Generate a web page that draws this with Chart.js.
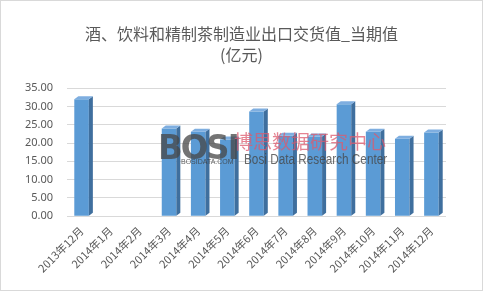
<!DOCTYPE html>
<html>
<head>
<meta charset="utf-8">
<script src="https://cdn.jsdelivr.net/npm/chart.js"></script>
<style>
    html, body { margin: 0; padding: 0; background: #fff; }
    .wrap {
        position: relative;
        width: 481px;
        height: 289px;
        border: 1px solid #d9d9d9;
        font-family: "Noto Sans CJK SC", "Noto Sans", sans-serif;
    }
    canvas { display: block; }
    .wm { position: absolute; white-space: nowrap; pointer-events: none; transform-origin: left top; }
    .wm-logo { left: 157px; top: 126px; font: bold 34px "DejaVu Sans", sans-serif; color: rgba(70,70,70,0.75); letter-spacing: -2px; transform: scaleX(0.95); }
    .wm-site { left: 180px; top: 157px; font: 7px "Liberation Sans", sans-serif; color: rgba(60,60,60,0.8); }
    .wm-cn { left: 233px; top: 126px; font: 19px "Noto Sans CJK SC", sans-serif; color: rgba(220,90,110,0.75); }
    .wm-en { left: 243px; top: 150px; font: 14px "Liberation Sans", sans-serif; color: rgba(70,70,70,0.8); transform: scaleX(0.84); }
</style>
</head>
<body>
<div class="wrap">
    <canvas id="chart" width="481" height="289"></canvas>
    <div class="wm wm-logo">BOSI</div>
    <div class="wm wm-site">BOSIDATA.COM</div>
    <div class="wm wm-cn">博思数据研究中心</div>
    <div class="wm wm-en">Bosi Data Research Center</div>
</div>
<script>
// 데이터
const months = ['2013年12月', '2014年1月', '2014年2月', '2014年3月', '2014年4月', '2014年5月',
    '2014年6月', '2014年7月', '2014年8月', '2014年9月', '2014年10月', '2014年11月', '2014年12月'];
const exportValues = [32.0, null, null, 24.0, 23.1, 21.0, 28.6, 22.0, 21.8, 30.6, 23.1, 21.2, 22.9];
const titleLines = ['酒、饮料和精制茶制造业出口交货值_当期值', '(亿元)'];

// 3D 느낌의 측면/윗면 그리기
const bar3d = {
    id: 'bar3d',
    afterDatasetsDraw(chart) {
        const ctx = chart.ctx;
        const d = 4, r = 3;
        chart.getDatasetMeta(0).data.forEach((bar, i) => {
            if (exportValues[i] == null) return;
            const { x, y, base, width } = bar.getProps(['x', 'y', 'base', 'width'], true);
            const L = x - width / 2, R = x + width / 2;
            ctx.save();
            ctx.fillStyle = '#3f6f9e';
            ctx.beginPath();
            ctx.moveTo(R, y);
            ctx.lineTo(R + d, y - r);
            ctx.lineTo(R + d, base - r);
            ctx.lineTo(R, base);
            ctx.closePath();
            ctx.fill();
            ctx.fillStyle = '#7eaee0';
            ctx.beginPath();
            ctx.moveTo(L, y);
            ctx.lineTo(L + d, y - r);
            ctx.lineTo(R + d, y - r);
            ctx.lineTo(R, y);
            ctx.closePath();
            ctx.fill();
            ctx.restore();
        });
    }
};

new Chart(document.getElementById('chart'), {
    type: 'bar',
    data: {
        labels: months,
        datasets: [{
            data: exportValues,
            backgroundColor: '#5b9bd5',
            borderWidth: 0,
            barPercentage: 0.5,
            categoryPercentage: 1.0
        }]
    },
    options: {
        responsive: false,
        animation: false,
        layout: { padding: { left: 22, right: 22, top: 0, bottom: 15 } },
        plugins: {
            legend: { display: false },
            tooltip: { enabled: false },
            title: {
                display: true,
                text: titleLines,
                color: '#595959',
                font: { family: '"Noto Sans CJK SC", sans-serif', size: 16, weight: 'normal', lineHeight: 1.35 },
                padding: { top: 22, bottom: 22 }
            }
        },
        scales: {
            x: {
                grid: { display: false },
                border: { display: false },
                ticks: {
                    color: '#595959',
                    font: { family: '"Noto Sans CJK SC", sans-serif', size: 11 },
                    maxRotation: 45,
                    minRotation: 45,
                    autoSkip: false,
                    padding: 0
                }
            },
            y: {
                min: 0,
                max: 35,
                grid: { color: '#d9d9d9', drawTicks: false },
                border: { display: false },
                afterFit: scale => { scale.width = 44; },
                ticks: {
                    stepSize: 5,
                    color: '#595959',
                    padding: 14,
                    font: { family: '"Noto Sans", sans-serif', size: 11 },
                    callback: v => v.toFixed(2)
                }
            },
            // 오른쪽 여백용 빈 축
            yRight: {
                position: 'right',
                min: 0,
                max: 35,
                grid: { display: false },
                border: { display: false },
                ticks: { display: false },
                afterFit: scale => { scale.width = 14; }
            }
        }
    },
    plugins: [bar3d]
});
</script>
</body>
</html>
